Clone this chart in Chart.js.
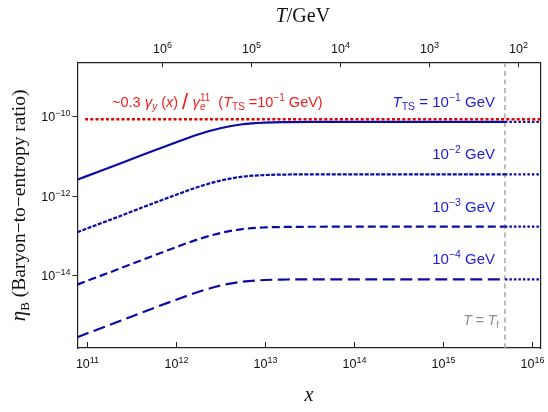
<!DOCTYPE html>
<html><head><meta charset="utf-8">
<script src="https://cdn.jsdelivr.net/npm/chart.js@4/dist/chart.umd.min.js"></script>
<style>html,body{margin:0;padding:0;background:#fff}#wrap{width:548px;height:412px}</style>
</head><body><div id="wrap"><canvas id="c" width="548" height="412"></canvas></div>
<script>
// ---- data ----
const xValues = [7.84e10, 1e11, 1.78e11, 3.16e11, 5.62e11, 1e12, 1.78e12, 3.16e12, 5.62e12, 1e13, 1.78e13, 3.16e13, 1e14, 1e15, 5e15];
const etaTS1 = [2.50e-12, 3.09e-12, 5.01e-12, 8.22e-12, 1.35e-11, 2.19e-11, 3.47e-11, 5.01e-11, 6.31e-11, 6.95e-11, 7.16e-11, 7.23e-11, 7.24e-11, 7.24e-11, 7.24e-11];
const etaTS2 = [1.18e-13, 1.46e-13, 2.37e-13, 3.89e-13, 6.38e-13, 1.035e-12, 1.64e-12, 2.37e-12, 2.99e-12, 3.29e-12, 3.39e-12, 3.42e-12, 3.43e-12, 3.43e-12, 3.43e-12];
const etaTS3 = [5.62e-15, 6.95e-15, 1.127e-14, 1.85e-14, 3.03e-14, 4.92e-14, 7.80e-14, 1.127e-13, 1.42e-13, 1.56e-13, 1.61e-13, 1.625e-13, 1.63e-13, 1.63e-13, 1.63e-13];
const etaTS4 = [2.64e-16, 3.27e-16, 5.30e-16, 8.69e-16, 1.43e-15, 2.31e-15, 3.66e-15, 5.30e-15, 6.67e-15, 7.35e-15, 7.57e-15, 7.64e-15, 7.66e-15, 7.66e-15, 7.66e-15];
const extX = [5e15, 1.256e16];
const extTS1 = [7.24e-11, 7.24e-11];
const extTS2 = [3.43e-12, 3.43e-12];
const extTS3 = [1.63e-13, 1.63e-13];
const extTS4 = [7.66e-15, 7.66e-15];
const redX = [9.6e10, 1.256e16];
const redY = [8.4e-11, 8.4e-11];
const xTf = 5e15;
const xRange = [7.84e10, 1.256e16];
const yRange = [1.41e-16, 2.26e-9];
const bottomTicks = [1e11, 1e12, 1e13, 1e14, 1e15, 1e16];
const bottomTickExp = ['11', '12', '13', '14', '15', '16'];
const leftTicks = [1e-10, 1e-12, 1e-14];
const leftTickExp = ['\u221210', '\u221212', '\u221214'];
const topTicksT = [1e6, 1e5, 1e4, 1e3, 1e2];
const topTickExp = ['6', '5', '4', '3', '2'];
const xTimesT = 7.06e17; // x = xTimesT / T (top axis conversion)

const SANS = '"Liberation Sans", Arial, sans-serif';
const SERIF = '"Liberation Serif", "Times New Roman", serif';
const BLUE = '#0b0ba5';
const BLUE_TXT = '#1c1ce0';
const RED = '#e50000';
const RED_TXT = '#f01c1c';

const pts = (xs, ys) => xs.map((x, i) => ({x, y: ys[i]}));

function rich(ctx, segs, x, y, align) {
  const fontOf = s => (s.italic ? 'italic ' : '') + s.size + 'px ' + (s.family || SANS);
  let w = 0;
  for (const s of segs) { if (s.keep) continue; ctx.font = fontOf(s); w += ctx.measureText(s.t).width; }
  let cx = align === 'right' ? x - w : align === 'center' ? x - w / 2 : x;
  for (const s of segs) {
    ctx.font = fontOf(s);
    ctx.fillText(s.t, cx, y + (s.dy || 0));
    if (!s.keep) cx += ctx.measureText(s.t).width;
  }
}
function p10(ctx, exp, x, y, align) {
  rich(ctx, [{t: '10', size: 12.5}, {t: exp, size: 9}, ].map((s, i) => i ? Object.assign(s, {dy: -5.5}) : s), x, y, align);
}

const decor = {
  id: 'decor',
  afterDraw(chart) {
    const ctx = chart.ctx, a = chart.chartArea;
    const xs = chart.scales.x, ys = chart.scales.y, xt = chart.scales.x2;
    ctx.save();
    ctx.strokeStyle = '#222'; ctx.lineWidth = 1; ctx.fillStyle = '#111';
    ctx.textBaseline = 'alphabetic';
    bottomTicks.forEach((v, i) => {
      const px = Math.round(xs.getPixelForValue(v)) + 0.5;
      ctx.beginPath(); ctx.moveTo(px, a.bottom); ctx.lineTo(px, a.bottom - 6); ctx.stroke();
      p10(ctx, bottomTickExp[i], px, 368, 'center');
    });
    topTicksT.forEach((v, i) => {
      const px = Math.round(xt.getPixelForValue(v)) + 0.5;
      ctx.beginPath(); ctx.moveTo(px, a.top); ctx.lineTo(px, a.top + 4.5); ctx.stroke();
      p10(ctx, topTickExp[i], px, 53, 'center');
    });
    leftTicks.forEach((v, i) => {
      const py = Math.round(ys.getPixelForValue(v)) + 0.5;
      ctx.beginPath(); ctx.moveTo(a.left - 5, py); ctx.lineTo(a.left, py); ctx.stroke();
      p10(ctx, leftTickExp[i], 70.5, py + 4.5, 'right');
    });
    ctx.fillStyle = '#111';
    const cxa = (a.left + a.right) / 2;
    rich(ctx, [{t: 'T', size: 20, italic: true, family: SERIF}, {t: '/GeV', size: 20, family: SERIF}], cxa - 6, 22, 'center');
    rich(ctx, [{t: 'x', size: 20, italic: true, family: SERIF}], cxa, 401, 'center');
    ctx.save();
    ctx.translate(25, (a.top + a.bottom) / 2);
    ctx.rotate(-Math.PI / 2);
    rich(ctx, [{t: '\u03b7', size: 21, italic: true, family: SERIF}, {t: 'B', size: 13, dy: 4, family: SERIF},
      {t: ' (Baryon\u2212to\u2212entropy ratio)', size: 19.5, family: SERIF}], 0, 0, 'center');
    ctx.restore();
    ctx.fillStyle = RED_TXT;
    rich(ctx, [
      {t: '~0.3 ', size: 14.5}, {t: '\u03b3', size: 15, italic: true}, {t: 'y', size: 10, italic: true, dy: 3},
      {t: ' (', size: 14.5}, {t: 'x', size: 14.5, italic: true}, {t: ') ', size: 14.5},
      {t: '/', size: 22, dy: 2}, {t: ' \u03b3', size: 15, italic: true},
      {t: 'e', size: 10, italic: true, dy: 3, keep: true}, {t: '11', size: 10, dy: -6},
      {t: '  (', size: 14.5}, {t: 'T', size: 14.5, italic: true}, {t: 'TS', size: 10, dy: 3},
      {t: ' =10', size: 14.5}, {t: '\u22121', size: 10, dy: -6}, {t: ' GeV)', size: 14.5}
    ], 112, 107, 'left');
    ctx.fillStyle = BLUE_TXT;
    rich(ctx, [{t: 'T', size: 15, italic: true}, {t: 'TS', size: 10.5, dy: 3}, {t: ' = 10', size: 15},
      {t: '\u22121', size: 10.5, dy: -6}, {t: ' GeV', size: 15}], 495, 107, 'right');
    [['\u22122', 158.5], ['\u22123', 211.5], ['\u22124', 263.5]].forEach(([e, y]) => {
      rich(ctx, [{t: '10', size: 15}, {t: e, size: 10.5, dy: -6}, {t: ' GeV', size: 15}], 495, y, 'right');
    });
    ctx.fillStyle = '#8c8c8c';
    rich(ctx, [{t: 'T', size: 14, italic: true}, {t: ' = ', size: 14}, {t: 'T', size: 14, italic: true},
      {t: 'f', size: 9.5, dy: 3}], 499, 325, 'right');
    ctx.restore();
  }
};

const base = {fill: false, pointRadius: 0, borderWidth: 2.2, cubicInterpolationMode: 'monotone'};
const hiddenScale = (extra) => Object.assign({
  display: true,
  ticks: {display: false},
  grid: {drawOnChartArea: false, drawTicks: false},
  border: {display: true, color: '#222', width: 1.2}
}, extra);

new Chart(document.getElementById('c'), {
  type: 'line',
  data: {
    datasets: [
      Object.assign({}, base, {data: pts(redX, redY), borderColor: RED, borderWidth: 2.6, borderDash: [3, 2.2], order: 1}),
      Object.assign({}, base, {data: pts(xValues, etaTS1), borderColor: BLUE, order: 3}),
      Object.assign({}, base, {data: pts(xValues, etaTS2), borderColor: BLUE, borderDash: [4, 1.5], order: 3}),
      Object.assign({}, base, {data: pts(xValues, etaTS3), borderColor: BLUE, borderDash: [8, 4], order: 3}),
      Object.assign({}, base, {data: pts(xValues, etaTS4), borderColor: BLUE, borderDash: [12, 5.5], order: 3}),
      Object.assign({}, base, {data: pts(extX, extTS1), borderColor: BLUE, borderDash: [2.5, 2], order: 3}),
      Object.assign({}, base, {data: pts(extX, extTS2), borderColor: BLUE, borderDash: [2.5, 2], order: 3}),
      Object.assign({}, base, {data: pts(extX, extTS3), borderColor: BLUE, borderDash: [2.5, 2], order: 3}),
      Object.assign({}, base, {data: pts(extX, extTS4), borderColor: BLUE, borderDash: [2.5, 2], order: 3}),
      Object.assign({}, base, {data: [{x: xTf, y: yRange[0]}, {x: xTf, y: yRange[1]}], borderColor: '#a8a8a8', borderWidth: 1.5, borderDash: [5, 3.5], order: 9})
    ]
  },
  options: {
    responsive: false, animation: false, devicePixelRatio: 1,
    layout: {padding: {left: 77.3, top: 62.7, right: 7.5, bottom: 64}},
    plugins: {legend: {display: false}, tooltip: {enabled: false}},
    scales: {
      x: hiddenScale({type: 'logarithmic', position: 'bottom', min: xRange[0], max: xRange[1]}),
      x2: hiddenScale({type: 'logarithmic', position: 'top', min: xTimesT / xRange[1], max: xTimesT / xRange[0], reverse: true}),
      y: hiddenScale({type: 'logarithmic', position: 'left', min: yRange[0], max: yRange[1]}),
      y2: hiddenScale({type: 'logarithmic', position: 'right', min: yRange[0], max: yRange[1]})
    }
  },
  plugins: [decor]
});
</script></body></html>
